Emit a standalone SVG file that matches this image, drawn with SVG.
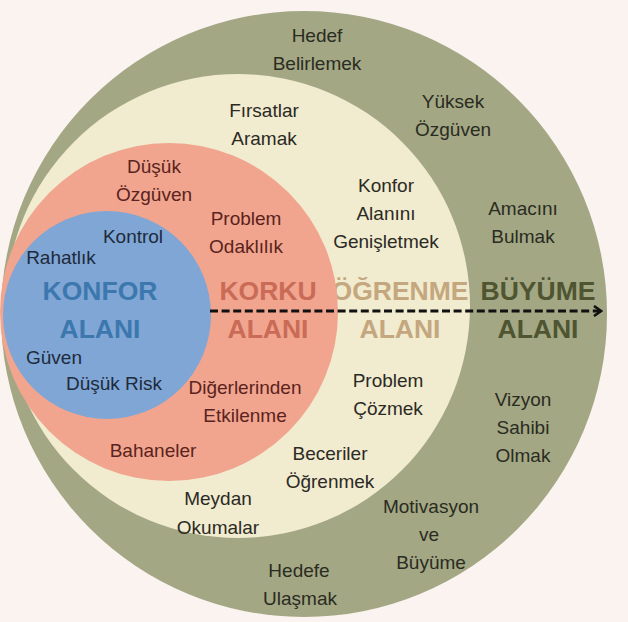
<svg xmlns="http://www.w3.org/2000/svg" width="628" height="622" viewBox="0 0 628 622">
<defs>
<style>
text{font-family:"Liberation Sans",Arial,sans-serif;text-anchor:middle}
.t{font-size:19px}
.h{font-size:26.5px;font-weight:bold}
.g{fill:#2a2c22}
.c{fill:#2b2a24}
.s{fill:#5a2320}
.b{fill:#1d2b3c}
</style>
<marker id="arr" viewBox="0 0 12 12" refX="10" refY="6" markerWidth="12" markerHeight="12" markerUnits="userSpaceOnUse" orient="auto">
<path d="M3,1 L10,6 L3,11" fill="none" stroke="#111" stroke-width="2.6"/>
</marker>
</defs>
<rect width="628" height="622" fill="#faf3f0"/>
<g id="buyume-alani">
<circle cx="304" cy="314" r="303" fill="#a3a784"/>
<text class="h" x="538" y="300" fill="#4e5530">BÜYÜME</text>
<text class="h" x="538" y="338" fill="#4e5530">ALANI</text>
<text class="t g" x="317" y="42">Hedef</text>
<text class="t g" x="317" y="70">Belirlemek</text>
<text class="t g" x="453" y="108">Yüksek</text>
<text class="t g" x="453" y="136">Özgüven</text>
<text class="t g" x="523" y="215">Amacını</text>
<text class="t g" x="523" y="243">Bulmak</text>
<text class="t g" x="523" y="406">Vizyon</text>
<text class="t g" x="523" y="434">Sahibi</text>
<text class="t g" x="523" y="462">Olmak</text>
<text class="t g" x="431" y="513">Motivasyon</text>
<text class="t g" x="429" y="541">ve</text>
<text class="t g" x="431" y="569">Büyüme</text>
<text class="t g" x="299" y="577">Hedefe</text>
<text class="t g" x="300" y="605">Ulaşmak</text>
</g>
<g id="ogrenme-alani">
<circle cx="238" cy="306" r="232" fill="#f1ebcf"/>
<text class="h" x="400" y="300" fill="#c4a77e">ÖĞRENME</text>
<text class="h" x="400" y="338" fill="#c4a77e">ALANI</text>
<text class="t c" x="264" y="117">Fırsatlar</text>
<text class="t c" x="264" y="145">Aramak</text>
<text class="t c" x="386" y="192">Konfor</text>
<text class="t c" x="386" y="220">Alanını</text>
<text class="t c" x="386" y="248">Genişletmek</text>
<text class="t c" x="388" y="387">Problem</text>
<text class="t c" x="388" y="415">Çözmek</text>
<text class="t c" x="330" y="460">Beceriler</text>
<text class="t c" x="330" y="488">Öğrenmek</text>
<text class="t c" x="218" y="505">Meydan</text>
<text class="t c" x="218" y="534">Okumalar</text>
</g>
<g id="korku-alani">
<circle cx="169" cy="312" r="169" fill="#f1a58e"/>
<text class="h" x="268" y="300" fill="#c96b56">KORKU</text>
<text class="h" x="268" y="338" fill="#c96b56">ALANI</text>
<text class="t s" x="154" y="173">Düşük</text>
<text class="t s" x="154" y="201">Özgüven</text>
<text class="t s" x="246" y="225">Problem</text>
<text class="t s" x="246" y="253">Odaklılık</text>
<text class="t s" x="245" y="394">Diğerlerinden</text>
<text class="t s" x="245" y="422">Etkilenme</text>
<text class="t s" x="153" y="457">Bahaneler</text>
</g>
<g id="konfor-alani">
<circle cx="107" cy="315" r="104" fill="#80a6d5"/>
<text class="h" x="100" y="300" fill="#3c78ae">KONFOR</text>
<text class="h" x="100" y="338" fill="#3c78ae">ALANI</text>
<text class="t b" x="133" y="243">Kontrol</text>
<text class="t b" x="61" y="264">Rahatlık</text>
<text class="t b" x="54" y="364">Güven</text>
<text class="t b" x="114" y="390">Düşük Risk</text>
</g>
<g id="connectors">
<line x1="210" y1="311" x2="601" y2="311" stroke="#111" stroke-width="2.8" stroke-dasharray="8 3.6" marker-end="url(#arr)"/>
</g>
</svg>
